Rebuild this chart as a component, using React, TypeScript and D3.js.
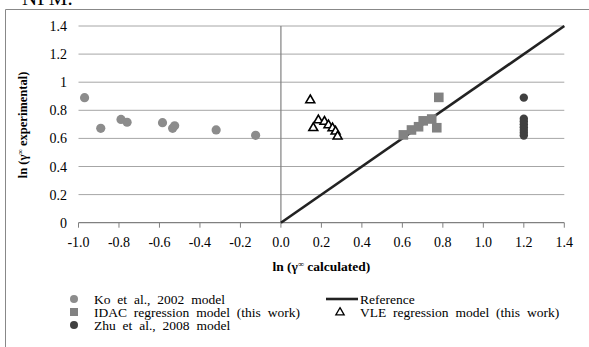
import React from "react";
import * as d3 from "d3";

const koData: [number, number][] = [
  [-0.97, 0.89], [-0.89, 0.672], [-0.79, 0.735], [-0.76, 0.715], [-0.585, 0.712],
  [-0.535, 0.672], [-0.525, 0.69], [-0.32, 0.66], [-0.125, 0.622],
];
const idacData: [number, number][] = [
  [0.78, 0.892], [0.605, 0.625], [0.645, 0.66], [0.68, 0.683], [0.703, 0.725],
  [0.745, 0.738], [0.77, 0.676],
];
const vleData: [number, number][] = [
  [0.145, 0.878], [0.16, 0.68], [0.185, 0.735], [0.215, 0.725], [0.235, 0.70],
  [0.255, 0.678], [0.27, 0.655], [0.28, 0.62],
];
const zhuData: [number, number][] = [
  [1.2, 0.89], [1.2, 0.74], [1.2, 0.72], [1.2, 0.70], [1.2, 0.68], [1.2, 0.66],
  [1.2, 0.64], [1.2, 0.62],
];
const refLine: [number, number][] = [[0, 0], [1.4, 1.4]];
const xTicks = [-1.0, -0.8, -0.6, -0.4, -0.2, 0.0, 0.2, 0.4, 0.6, 0.8, 1.0, 1.2, 1.4];
const yTicks = [0, 0.2, 0.4, 0.6, 0.8, 1, 1.2, 1.4];

const font = "'Liberation Serif', 'Times New Roman', serif";

export default function App() {
  const W = 589, H = 347;
  const x = d3.scaleLinear().domain([-1, 1.4]).range([78.5, 564.3]);
  const y = d3.scaleLinear().domain([0, 1.4]).range([222.7, 26]);
  const line = d3.line<[number, number]>().x(d => x(d[0])).y(d => y(d[1]));
  const tri = d3.symbol().type(d3.symbolTriangle).size(34)() as string;
  const grid = "#a6a6a6";
  return (
    <svg width={W} height={H} style={{ position: "absolute", left: 0, top: 0, background: "#fff" }}
      fontFamily={font}>
      <rect x={0} y={0} width={W} height={H} fill="#fff" />
      <text x={22} y={5} fontSize={21} fill="#000">NPM.</text>
      <path d={`M5.5,${H + 2} V9.5 H${W + 2}`} fill="none" stroke="#888" strokeWidth={1} />
      {yTicks.filter(t => t > 0).map(t => (
        <line key={t} x1={x(-1)} x2={x(1.4)} y1={y(t)} y2={y(t)} stroke={grid} strokeWidth={1} />
      ))}
      <line x1={x(0)} x2={x(0)} y1={y(0)} y2={y(1.4)} stroke="#808080" strokeWidth={1.2} />
      <line x1={x(-1)} x2={x(1.4)} y1={y(0)} y2={y(0)} stroke="#808080" strokeWidth={1.2} />
      {xTicks.map(t => (
        <g key={t}>
          <line x1={x(t)} x2={x(t)} y1={y(0)} y2={y(0) + 5} stroke="#808080" strokeWidth={1} />
          <text x={x(t)} y={y(0) + 24} fontSize={14} textAnchor="middle">{t.toFixed(1)}</text>
        </g>
      ))}
      {yTicks.map(t => (
        <text key={t} x={67} y={y(t) + 5} fontSize={14} textAnchor="end">{String(t)}</text>
      ))}
      <text transform={`translate(27,125) rotate(-90)`} fontSize={12.5} fontWeight="bold" textAnchor="middle">
        ln (γ<tspan fontSize={8} dy={-4}>∞</tspan><tspan dy={4}> experimental)</tspan>
      </text>
      <text x={x(0.2)} y={271} fontSize={13.5} fontWeight="bold" textAnchor="middle">
        ln (γ<tspan fontSize={8.5} dy={-4}>∞</tspan><tspan dy={4}> calculated)</tspan>
      </text>
      <path d={line(refLine) as string} stroke="#222" strokeWidth={2.6} fill="none" />
      {koData.map((d, i) => (
        <circle key={i} cx={x(d[0])} cy={y(d[1])} r={4.6} fill="#8c8c8c" />
      ))}
      {idacData.map((d, i) => (
        <rect key={i} x={x(d[0]) - 4.8} y={y(d[1]) - 4.8} width={9.6} height={9.6} fill="#828282" />
      ))}
      {zhuData.map((d, i) => (
        <circle key={i} cx={x(d[0])} cy={y(d[1])} r={4.2} fill="#404040" />
      ))}
      {vleData.map((d, i) => (
        <path key={i} d={tri} transform={`translate(${x(d[0])},${y(d[1]) + 0.8})`} fill="#fff" stroke="#000" strokeWidth={1.6} />
      ))}
      {/* legend */}
      <g fontSize={13.5} wordSpacing={3.5}>
        <circle cx={74} cy={299} r={4} fill="#8c8c8c" />
        <text x={94} y={303.5}>Ko et al., 2002 model</text>
        <line x1={326} x2={358} y1={299} y2={299} stroke="#222" strokeWidth={2.6} />
        <text x={360} y={303.5}>Reference</text>
        <rect x={70} y={308} width={8} height={8} fill="#828282" />
        <text x={94} y={316.5}>IDAC regression model (this work)</text>
        <path d={d3.symbol().type(d3.symbolTriangle).size(30)() as string} transform="translate(340,312.5)" fill="#fff" stroke="#000" strokeWidth={1.3} />
        <text x={360} y={316.5}>VLE regression model (this work)</text>
        <circle cx={74} cy={325} r={4} fill="#404040" />
        <text x={94} y={329.5}>Zhu et al., 2008 model</text>
      </g>
    </svg>
  );
}
